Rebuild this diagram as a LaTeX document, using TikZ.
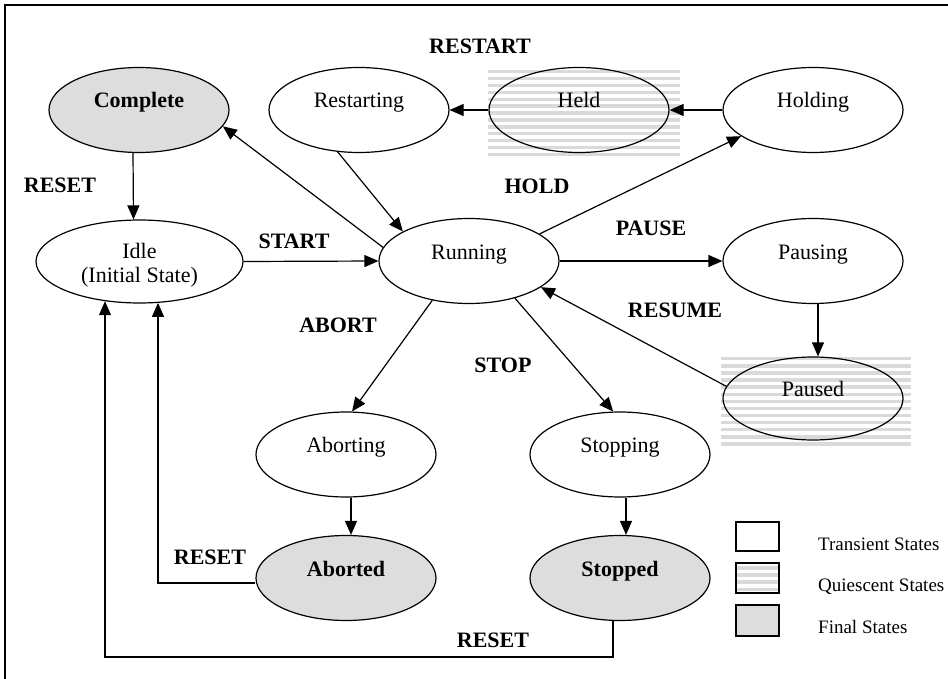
\documentclass[tikz,border=0pt]{standalone}
\usepackage{fontspec}
\setmainfont{Liberation Serif}
\usetikzlibrary{shapes.geometric,arrows.meta,calc}
\definecolor{finalgray}{HTML}{DDDDDD}
\definecolor{stripegray}{HTML}{DADADA}
\begin{document}
\begin{tikzpicture}[x=1pt,y=-1pt,
  state/.style={ellipse,draw,line width=1.2pt,minimum width=180pt,minimum height=85pt,
    inner sep=0pt,text height=15pt,text depth=19pt,font=\fontsize{22}{26}\selectfont},
  final/.style={state,fill=finalgray,font=\fontsize{22}{26}\selectfont\bfseries},
  arr/.style={line width=1.2pt,-{Triangle[length=14pt,width=12pt]}},
  lbl/.style={font=\fontsize{22}{26}\selectfont\bfseries,inner sep=0pt},
  legtext/.style={font=\fontsize{19}{22}\selectfont,anchor=base west,inner sep=0pt},
  legbox/.style={draw,line width=1.2pt}]
\useasboundingbox (0,0) rectangle (948,679);

% outer frame
\draw[line width=2pt] (5,679) -- (5,5) -- (948,5);

% striped backgrounds of the quiescent states
\foreach \k in {0,...,12}
  \fill[stripegray] (488,{70+\k*6.9}) rectangle (680,{73.4+\k*6.9});
\foreach \k in {0,...,12}
  \fill[stripegray] (721,{357+\k*7.1}) rectangle (911,{360.4+\k*7.1});

% states
\node[final] (complete) at (139,110) {Complete};
\node[state] (restarting) at (359,110) {Restarting};
\node[state] (held) at (579,110) {Held};
\node[state] (holding) at (813,110) {Holding};
\node[state,minimum width=207pt,minimum height=83pt] (idle) at (139.5,261.5) {};
\node[font=\fontsize{22}{24}\selectfont,align=center,inner sep=0pt] (idletext) at (139.5,265) {Idle\\(Initial State)};
\node[state] (running) at (469,261) {Running};
\node[state] (pausing) at (813,261) {Pausing};
\node[state,minimum height=83pt] (paused) at (813,398.5) {Paused};
\node[state] (aborting) at (346,454.5) {Aborting};
\node[final] (aborted) at (346,578) {Aborted};
\node[state] (stopping) at (620,454.5) {Stopping};
\node[final] (stopped) at (620,578) {Stopped};

% transitions
\draw[arr] ($(complete.south)+(-6,0)$) -- ($(idle.north)+(-6,0)$);
\draw[arr] (idle.east) -- (running.west);
\draw[arr] (running.east) -- (pausing.west);
\draw[arr] (holding.west) -- (held.east);
\draw[arr] (held.west) -- (restarting.east);
\draw[arr] (running.171) -- (complete.349);
\draw[arr] (restarting.243) -- (running.156);
\draw[arr] (running.21) -- (holding.200);
\draw[arr] (paused.172) -- (running.340);
\draw[arr] (running.227) -- (aborting.82);
\draw[arr] (running.321) -- (stopping.99);
\draw[arr] ($(pausing.south)+(5,0)$) -- ($(paused.north)+(5,0)$);
\draw[arr] ($(aborting.south)+(5,0)$) -- ($(aborted.north)+(5,0)$);
\draw[arr] ($(stopping.south)+(6,0)$) -- ($(stopped.north)+(6,0)$);
\coordinate (abcorner) at (158,583);
\draw[arr] (aborted.west |- abcorner) -- (abcorner) -- ($(idle.south)+(18.5,-0.7)$);
\coordinate (botcorner) at (105,657);
\draw[arr] ($(stopped.south)+(-7,0)$) |- (botcorner) -- ($(idle.south)+(-34.5,-2.4)$);

% transition labels
\node[lbl] (lrestart) at (480,46) {RESTART};
\node[lbl] (lreset1) at (60,185) {RESET};
\node[lbl] (lstart) at (294,241) {START};
\node[lbl] (lhold) at (537,186) {HOLD};
\node[lbl] (lpause) at (651,228) {PAUSE};
\node[lbl] (lresume) at (675,310) {RESUME};
\node[lbl] (labort) at (338,325) {ABORT};
\node[lbl] (lstop) at (503,365) {STOP};
\node[lbl] (lreset2) at (210,557) {RESET};
\node[lbl] (lreset3) at (493,640) {RESET};

% legend
\node[legbox,minimum width=43pt,minimum height=29pt,inner sep=0pt] (kt) at (757.5,536.5) {};
\foreach \k in {0,...,3}
  \fill[stripegray] (737,{566+\k*7.2}) rectangle (778,{569.6+\k*7.2});
\node[legbox,minimum width=43pt,minimum height=30pt,inner sep=0pt] (kq) at (757.5,578) {};
\node[legbox,fill=finalgray,minimum width=43pt,minimum height=31pt,inner sep=0pt] (kf) at (757.5,620.5) {};
\node[legtext] (tt) at (818,550) {Transient States};
\node[legtext] (tq) at (818,591) {Quiescent States};
\node[legtext] (tf) at (818,633) {Final States};
\end{tikzpicture}
\end{document}
